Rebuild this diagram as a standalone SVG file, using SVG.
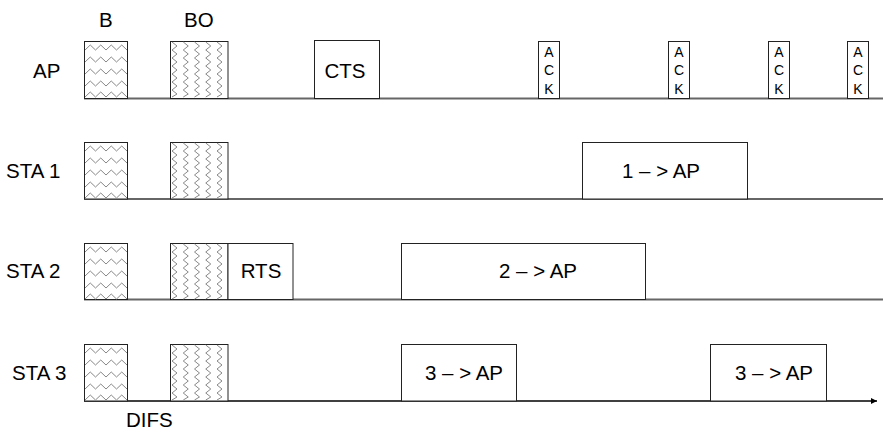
<svg xmlns="http://www.w3.org/2000/svg" xmlns:xlink="http://www.w3.org/1999/xlink" width="883" height="432" viewBox="0 0 883 432">
<style>
text{font-family:"Liberation Sans",Arial,sans-serif;font-size:20.5px;fill:#000}
.ack{font-size:14px;text-anchor:middle}
.mid{text-anchor:middle}
.box{fill:#fff;stroke:#222;stroke-width:1}
.base{stroke:#666;stroke-width:2;fill:none}
.zz{fill:none;stroke:#888;stroke-width:1}
</style>
<defs>
<g id="hatchB">
<path class="zz" d="M1,9 L6.25,4 L11.5,9 L16.75,4 L22,9 L27.25,4 L32.5,9 L37.75,4 L43,9 M1,21 L6.25,16 L11.5,21 L16.75,16 L22,21 L27.25,16 L32.5,21 L37.75,16 L43,21 M1,33 L6.25,28 L11.5,33 L16.75,28 L22,33 L27.25,28 L32.5,33 L37.75,28 L43,33 M1,45 L6.25,40 L11.5,45 L16.75,40 L22,45 L27.25,40 L32.5,45 L37.75,40 L43,45 M1,56 L6.25,51 L11.5,56 L16.75,51 L22,56 L27.25,51 L32.5,56 L37.75,51 L43,56"/>
</g>
<g id="col">
<path class="zz" d="M0,1 L5,5 L0,9 L5,13 L0,17 L5,21 L0,25 L5,29 L0,33 L5,37 L0,41 L5,45 L0,49 L5,53 L0,56"/>
</g>
<g id="hatchBO">
<use xlink:href="#col" x="2"/>
<use xlink:href="#col" x="13.25"/>
<use xlink:href="#col" x="24.5"/>
<use xlink:href="#col" x="35.75"/>
<use xlink:href="#col" x="47"/>
</g>
<marker id="arr" markerWidth="8" markerHeight="8" refX="6" refY="3" orient="auto" markerUnits="userSpaceOnUse">
<path d="M0,0 L6,3 L0,6 Z" fill="#000"/>
</marker>
</defs>

<g id="connectors">
<line class="base" x1="84" y1="98.5" x2="883" y2="98.5"/>
<line class="base" x1="84" y1="199" x2="883" y2="199"/>
<line class="base" x1="84" y1="299.5" x2="883" y2="299.5"/>
<line x1="84" y1="401" x2="877" y2="401" stroke="#000" stroke-width="1.3" marker-end="url(#arr)"/>
</g>

<g id="header-labels">
<text x="99" y="27">B</text>
<text x="184" y="27">BO</text>
<text x="126" y="427">DIFS</text>
</g>

<g id="row-AP">
<text x="33" y="78">AP</text>
<rect class="box" x="84.5" y="41.5" width="43" height="57"/>
<use xlink:href="#hatchB" x="84" y="41"/>
<rect class="box" x="170.5" y="41.5" width="57.5" height="57"/>
<use xlink:href="#hatchBO" x="170" y="41"/>
</g>
<g id="cts">
<rect class="box" x="314.5" y="40.5" width="65" height="58"/>
<text class="mid" x="345" y="78">CTS</text>
</g>
<g id="ack1">
<rect class="box" x="538.5" y="41.5" width="21" height="57"/>
<text class="ack" x="549" y="57">A</text><text class="ack" x="549" y="75">C</text><text class="ack" x="549" y="94">K</text>
</g>
<g id="ack2">
<rect class="box" x="668.5" y="41.5" width="21" height="57"/>
<text class="ack" x="679" y="57">A</text><text class="ack" x="679" y="75">C</text><text class="ack" x="679" y="94">K</text>
</g>
<g id="ack3">
<rect class="box" x="768.5" y="41.5" width="21" height="57"/>
<text class="ack" x="779" y="57">A</text><text class="ack" x="779" y="75">C</text><text class="ack" x="779" y="94">K</text>
</g>
<g id="ack4">
<rect class="box" x="847.5" y="41.5" width="21" height="57"/>
<text class="ack" x="858" y="57">A</text><text class="ack" x="858" y="75">C</text><text class="ack" x="858" y="94">K</text>
</g>

<g id="row-STA1">
<text x="6" y="178">STA 1</text>
<rect class="box" x="84.5" y="142.5" width="43" height="56.5"/>
<use xlink:href="#hatchB" x="84" y="142"/>
<rect class="box" x="170.5" y="142.5" width="57.5" height="56.5"/>
<use xlink:href="#hatchBO" x="170" y="142"/>
</g>
<g id="data1">
<rect class="box" x="582.5" y="142.5" width="165" height="56.5"/>
<text class="mid" x="661" y="178">1 – &gt; AP</text>
</g>

<g id="row-STA2">
<text x="6" y="278">STA 2</text>
<rect class="box" x="84.5" y="243.5" width="43" height="56"/>
<use xlink:href="#hatchB" x="84" y="243"/>
<rect class="box" x="170.5" y="243.5" width="57.5" height="56"/>
<use xlink:href="#hatchBO" x="170" y="243"/>
</g>
<g id="rts">
<rect class="box" x="228" y="243.5" width="65" height="56"/>
<text class="mid" x="261" y="278">RTS</text>
</g>
<g id="data2">
<rect class="box" x="401.5" y="243.5" width="244" height="56"/>
<text class="mid" x="538" y="278">2 – &gt; AP</text>
</g>

<g id="row-STA3">
<text x="12" y="380">STA 3</text>
<rect class="box" x="84.5" y="344.5" width="43" height="56.5"/>
<use xlink:href="#hatchB" x="84" y="344"/>
<rect class="box" x="170.5" y="344.5" width="57.5" height="56.5"/>
<use xlink:href="#hatchBO" x="170" y="344"/>
</g>
<g id="data3a">
<rect class="box" x="401.5" y="344.5" width="115" height="56.5"/>
<text class="mid" x="464" y="380">3 – &gt; AP</text>
</g>
<g id="data3b">
<rect class="box" x="710.5" y="344.5" width="116" height="56.5"/>
<text class="mid" x="774" y="380">3 – &gt; AP</text>
</g>
</svg>
